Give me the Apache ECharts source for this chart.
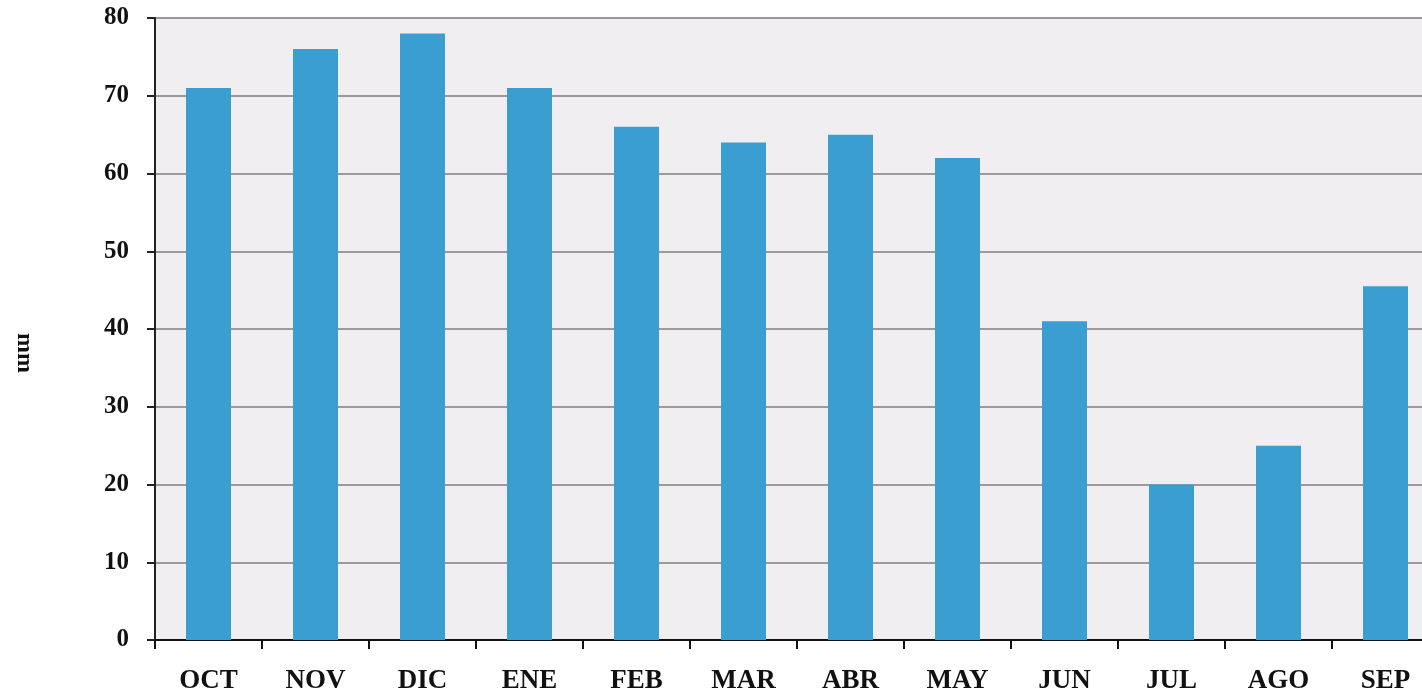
<!DOCTYPE html>
<html>
<head>
<meta charset="utf-8">
<title>Precipitación mensual</title>
<script src="https://cdn.jsdelivr.net/npm/echarts@6/dist/echarts.min.js"></script>
<style>
  html, body { margin: 0; padding: 0; background: #fff; overflow: hidden; }
  /* el gráfico original queda cortado por la derecha: el lienzo es algo más ancho que la ventana */
  #chart { width: 1439px; height: 698px; }
</style>
</head>
<body>
<div id="chart"></div>
<script>
// meses (año hidrológico) y precipitación en mm
const months = ['OCT', 'NOV', 'DIC', 'ENE', 'FEB', 'MAR', 'ABR', 'MAY', 'JUN', 'JUL', 'AGO', 'SEP'];
const rainfall = [71, 76, 78, 71, 66, 64, 65, 62, 41, 20, 25, 45.5];
const yTicks = [0, 10, 20, 30, 40, 50, 60, 70, 80];

(function() {
    const chart = echarts.init(document.getElementById('chart'));
    const serif = '"Liberation Serif", "DejaVu Serif", serif';

    const option = {
        animation: false,
        grid: { left: 155, top: 18, right: 0, bottom: 58, backgroundColor: '#f0eef0', show: true, borderWidth: 0 },
        graphic: [{
            type: 'text',
            x: 24,
            y: 353,
            rotation: -Math.PI / 2,
            style: {
                text: 'mm',
                fill: '#111',
                font: 'bold 24px ' + serif,
                align: 'center',
                verticalAlign: 'middle'
            }
        }],
        xAxis: {
            type: 'category',
            data: months,
            axisLine: { lineStyle: { color: '#111', width: 2 } },
            axisTick: { show: true, length: 9, lineStyle: { color: '#111', width: 2 } },
            axisLabel: { color: '#111', fontFamily: serif, fontWeight: 'bold', fontSize: 27, margin: 28 },
            splitLine: { show: false }
        },
        yAxis: {
            type: 'value',
            min: yTicks[0],
            max: yTicks[yTicks.length - 1],
            interval: 10,
            axisLine: { show: true, lineStyle: { color: '#222', width: 2 } },
            axisTick: { show: true, length: 8, lineStyle: { color: '#222', width: 2 } },
            axisLabel: { color: '#111', fontFamily: serif, fontWeight: 'bold', fontSize: 25, margin: 26 },
            splitLine: { lineStyle: { color: '#9e989c', width: 2 } }
        },
        series: [{
            type: 'bar',
            data: rainfall,
            barWidth: 45,
            itemStyle: { color: '#3a9fd0' }
        }]
    };

    chart.setOption(option);
})();
</script>
</body>
</html>
